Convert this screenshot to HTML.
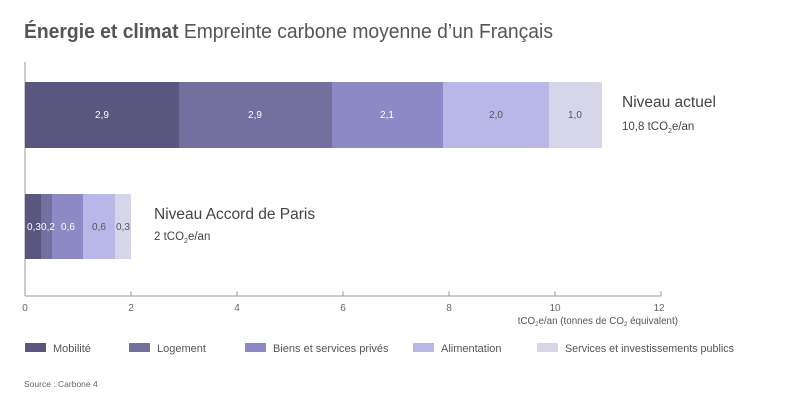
<!DOCTYPE html>
<html><head><meta charset="utf-8"><style>
body{margin:0;background:#fff;font-family:"Liberation Sans",sans-serif;}
svg text{font-family:"Liberation Sans",sans-serif;}
</style></head><body>
<svg width="800" height="400" xmlns="http://www.w3.org/2000/svg">
<text x="24" y="38" font-size="20" fill="#555" textLength="529" lengthAdjust="spacingAndGlyphs"><tspan font-weight="bold">Énergie et climat</tspan> Empreinte carbone moyenne d’un Français</text>
<line x1="25" y1="62" x2="25" y2="296" stroke="#999" stroke-width="1"/>
<line x1="25" y1="296" x2="661" y2="296" stroke="#999" stroke-width="1"/>
<g stroke="#999">
<line x1="131" y1="291" x2="131" y2="296"/><line x1="237" y1="291" x2="237" y2="296"/><line x1="343" y1="291" x2="343" y2="296"/><line x1="449" y1="291" x2="449" y2="296"/><line x1="555" y1="291" x2="555" y2="296"/><line x1="661" y1="291" x2="661" y2="296"/>
</g>
<g font-size="10" fill="#666" text-anchor="middle">
<text x="25" y="311">0</text><text x="131" y="311">2</text><text x="237" y="311">4</text><text x="343" y="311">6</text><text x="449" y="311">8</text><text x="555" y="311">10</text><text x="659" y="311">12</text>
</g>
<text x="678" y="324" font-size="9.8" fill="#555" text-anchor="end">tCO<tspan font-size="6" dy="2">2</tspan><tspan dy="-2">e/an (tonnes de CO</tspan><tspan font-size="6" dy="2">2</tspan><tspan dy="-2"> équivalent)</tspan></text>
<rect x="25" y="82" width="154" height="66" fill="#5a5680"/>
<rect x="179" y="82" width="153" height="66" fill="#736f9f"/>
<rect x="332" y="82" width="111" height="66" fill="#8d89c6"/>
<rect x="443" y="82" width="106" height="66" fill="#b9b7e8"/>
<rect x="549" y="82" width="53" height="66" fill="#d6d5ea"/>
<g font-size="10" text-anchor="middle">
<text x="102" y="118" fill="#fff">2,9</text><text x="255" y="118" fill="#fff">2,9</text><text x="387" y="118" fill="#fff">2,1</text><text x="496" y="118" fill="#555">2,0</text><text x="575" y="118" fill="#555">1,0</text>
</g>
<text x="622" y="107" font-size="15.5" fill="#444">Niveau actuel</text>
<text x="622" y="130" font-size="11.5" fill="#444">10,8 tCO<tspan font-size="7" dy="3">2</tspan><tspan dy="-3">e/an</tspan></text>
<rect x="25" y="194" width="16" height="65" fill="#5a5680"/>
<rect x="41" y="194" width="11" height="65" fill="#736f9f"/>
<rect x="52" y="194" width="31" height="65" fill="#8d89c6"/>
<rect x="83" y="194" width="32" height="65" fill="#b9b7e8"/>
<rect x="115" y="194" width="16" height="65" fill="#d6d5ea"/>
<g font-size="10" text-anchor="middle">
<text x="34" y="230" fill="#fff">0,3</text><text x="48" y="230" fill="#fff">0,2</text><text x="68" y="230" fill="#fff">0,6</text><text x="99" y="230" fill="#555">0,6</text><text x="123" y="230" fill="#555">0,3</text>
</g>
<text x="154" y="219" font-size="15.5" fill="#444">Niveau Accord de Paris</text>
<text x="154" y="240" font-size="11.5" fill="#444">2 tCO<tspan font-size="7" dy="3">2</tspan><tspan dy="-3">e/an</tspan></text>
<g font-size="11" fill="#555">
<rect x="25" y="343" width="21" height="9" fill="#5a5680"/><text x="53" y="352">Mobilité</text>
<rect x="129" y="343" width="21" height="9" fill="#736f9f"/><text x="157" y="352">Logement</text>
<rect x="245" y="343" width="21" height="9" fill="#8d89c6"/><text x="273" y="352">Biens et services privés</text>
<rect x="413" y="343" width="21" height="9" fill="#b9b7e8"/><text x="441" y="352">Alimentation</text>
<rect x="537" y="343" width="21" height="9" fill="#d6d5ea"/><text x="565" y="352" textLength="169" lengthAdjust="spacingAndGlyphs">Services et investissements publics</text>
</g>
<text x="24" y="387" font-size="8.5" fill="#666">Source : Carbone 4</text>
</svg>
</body></html>
